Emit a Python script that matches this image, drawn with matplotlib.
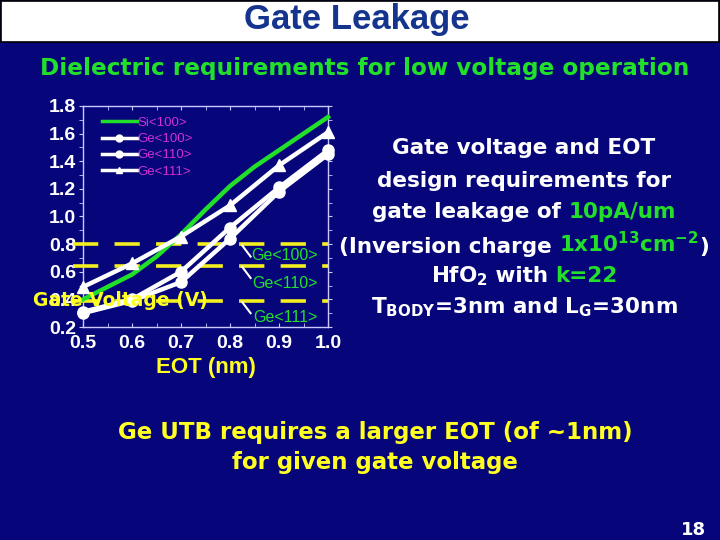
import matplotlib
matplotlib.use("Agg")
import matplotlib.pyplot as plt
from matplotlib.patches import Rectangle
from matplotlib.lines import Line2D
from matplotlib.offsetbox import TextArea, HPacker, AnnotationBbox
from matplotlib.ticker import MultipleLocator, FormatStrFormatter

plt.rcParams['mathtext.fontset'] = 'dejavusans'

# ---------------- data ----------------
eot = [0.5, 0.6, 0.7, 0.8, 0.9, 1.0]
si_eot = [0.5, 0.55, 0.6, 0.65, 0.7, 0.75, 0.8, 0.85, 0.9, 0.95, 1.0]
si100 = [0.40, 0.49, 0.58, 0.71, 0.87, 1.05, 1.22, 1.36, 1.48, 1.60, 1.72]
ge100 = [0.31, 0.40, 0.60, 0.92, 1.21, 1.48]
ge110 = [0.30, 0.39, 0.525, 0.84, 1.18, 1.45]
ge111 = [0.49, 0.66, 0.855, 1.08, 1.37, 1.61]
req_levels = [0.80, 0.645, 0.39]
req_labels = ['Ge<100>', 'Ge<110>', 'Ge<111>']
series_labels = ['Si<100>', 'Ge<100>', 'Ge<110>', 'Ge<111>']
xticks = [0.5, 0.6, 0.7, 0.8, 0.9, 1.0]
yticks = [0.2, 0.4, 0.6, 0.8, 1.0, 1.2, 1.4, 1.6, 1.8]

NAVY = '#06067a'
GREEN = '#22e02a'
YELLOW = '#ffff22'
WHITE = '#ffffff'
MAGENTA = '#d030d8'
TITLEBLUE = '#14348e'
ARIAL = ['Liberation Sans', 'DejaVu Sans']
WIDE = ['DejaVu Sans']

fig = plt.figure(figsize=(7.2, 5.4), dpi=100, facecolor=NAVY)

# title bar
fig.patches.append(Rectangle((0.001, 1 - 42 / 540), 0.998, 42 / 540 - 0.002,
                             transform=fig.transFigure, facecolor='white',
                             edgecolor='black', linewidth=1.2, zorder=0))
fig.text(0.496, 1 - 20 / 540, 'Gate Leakage', ha='center', va='center',
         fontsize=25, fontweight='bold', color=TITLEBLUE, family=ARIAL)
fig.text(0.506, 1 - 68 / 540, 'Dielectric requirements for low voltage operation',
         ha='center', va='center', fontsize=16.7, fontweight='bold', color=GREEN,
         family=WIDE)

# ---------------- chart ----------------
ax = fig.add_axes([83 / 720, 1 - 327 / 540, 245 / 720, 221 / 540])
ax.set_facecolor(NAVY)
for s in ax.spines.values():
    s.set_color('#c8c8ff')
    s.set_linewidth(1.0)

ax.plot(si_eot, si100, color=GREEN, lw=3.2, clip_on=False, zorder=4)
ax.plot(eot, ge100, color=WHITE, lw=3.2, marker='o', ms=8, clip_on=False, zorder=5)
ax.plot(eot, ge110, color=WHITE, lw=3.2, marker='o', ms=8, clip_on=False, zorder=5)
ax.plot(eot, ge111, color=WHITE, lw=3.2, marker='^', ms=8, clip_on=False, zorder=5)

label_drop = [0.08, 0.13, 0.12]
for lev, lab, drop in zip(req_levels, req_labels, label_drop):
    ax.plot([0.48, 1.0], [lev, lev], color='#f4f020', lw=2.6, dashes=(7, 4.5),
            clip_on=False, zorder=3)
    ax.plot([0.825, 0.842], [lev - 0.01, lev - 0.09], color=WHITE, lw=1.5, zorder=3)
    ax.text(0.912, lev - drop, lab, ha='center', va='center', color=GREEN,
            fontsize=11.5, family=ARIAL, zorder=6)

ax.set_xlim(0.5, 1.0)
ax.set_ylim(0.2, 1.8)
ax.set_xticks(xticks)
ax.set_yticks(yticks)
ax.xaxis.set_minor_locator(MultipleLocator(0.05))
ax.yaxis.set_minor_locator(MultipleLocator(0.1))
ax.xaxis.set_major_formatter(FormatStrFormatter('%.1f'))
ax.yaxis.set_major_formatter(FormatStrFormatter('%.1f'))
ax.tick_params(axis='x', which='both', direction='in', top=True, color='#c8c8ff',
               length=3, pad=6)
ax.tick_params(axis='y', which='both', direction='out', right=True, color='#c8c8ff',
               length=3, pad=2)
for lab in ax.get_xticklabels() + ax.get_yticklabels():
    lab.set_color(WHITE)
    lab.set_fontsize(14)
    lab.set_fontweight('bold')
    lab.set_family(ARIAL)

ax.set_xlabel('EOT (nm)', color=YELLOW, fontsize=16, fontweight='bold',
              family=ARIAL, labelpad=3)

leg_handles = [
    Line2D([], [], color=GREEN, lw=2.5),
    Line2D([], [], color=WHITE, lw=2.5, marker='o', ms=5),
    Line2D([], [], color=WHITE, lw=2.5, marker='o', ms=5),
    Line2D([], [], color=WHITE, lw=2.5, marker='^', ms=5),
]
leg = ax.legend(leg_handles, series_labels, loc='upper left',
                bbox_to_anchor=(0.03, 1.005), frameon=False, handlelength=2.6,
                handletextpad=0.1, labelspacing=0.3, prop={'family': ARIAL, 'size': 9.5})
for t in leg.get_texts():
    t.set_color(MAGENTA)

# garbled y label (rendered horizontally as in the slide)
fig.text(33 / 720, 1 - 300 / 540, 'Gate Voltage (V)', ha='left', va='center',
         color=YELLOW, fontsize=13.5, fontweight='bold', family=WIDE, zorder=10)

# ---------------- right text block ----------------
def tp(color, size=15.5):
    return dict(color=color, fontsize=size, fontweight='bold', family=WIDE)

lines = [
    [('Gate voltage and EOT', WHITE)],
    [('design requirements for', WHITE)],
    [('gate leakage of ', WHITE), ('10pA/um', GREEN)],
    [('(Inversion charge ', WHITE), (r'1x10$\mathbf{^{13}}$cm$\mathbf{^{-2}}$', GREEN), (')', WHITE)],
    [(r'HfO$\mathbf{_2}$', WHITE), (' with ', WHITE), ('k=22', GREEN)],
    [(r'T$\mathbf{_{BODY}}$=3nm and L$\mathbf{_G}$=30nm', WHITE)],
]
ys = [148, 181, 212, 244, 276, 307]
for parts, y in zip(lines, ys):
    boxes = [TextArea(txt, textprops=tp(col)) for txt, col in parts]
    pack = HPacker(children=boxes, align='baseline', pad=0, sep=0)
    ab = AnnotationBbox(pack, (524 / 720, 1 - y / 540), xycoords='figure fraction',
                        box_alignment=(0.5, 0.5), frameon=False, pad=0)
    fig.add_artist(ab)

fig.text(375 / 720, 1 - 433 / 540, 'Ge UTB requires a larger EOT (of ~1nm)',
         ha='center', va='center', **tp(YELLOW, 16.5))
fig.text(375 / 720, 1 - 463 / 540, 'for given gate voltage',
         ha='center', va='center', **tp(YELLOW, 16.5))
fig.text(706 / 720, 1 - 530 / 540, '18', ha='right', va='center',
         **tp(WHITE, 13))

fig.savefig('out.png', dpi=100, facecolor=NAVY)
